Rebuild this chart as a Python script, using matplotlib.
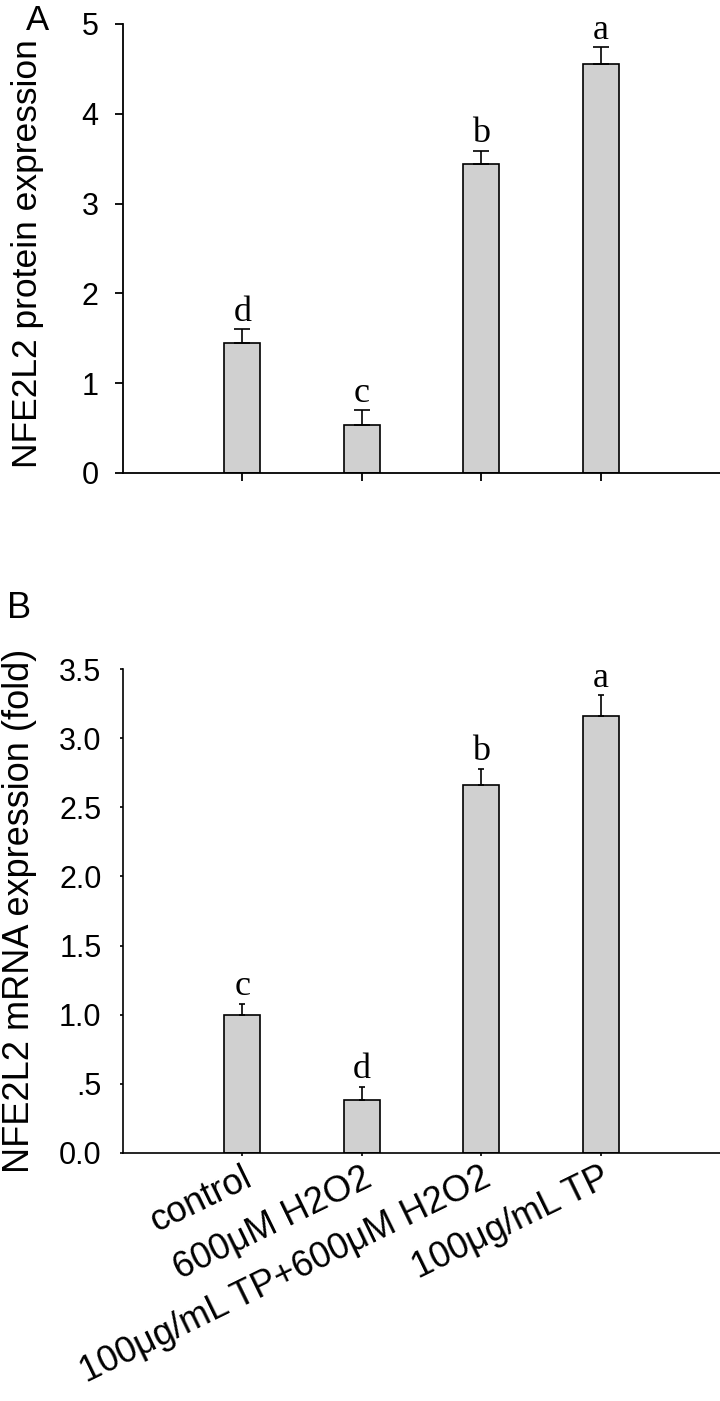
import numpy as np
import matplotlib
matplotlib.use("Agg")
import matplotlib.pyplot as plt
from matplotlib import font_manager

# Data
groups = ["control", "600μM H2O2", "100μg/mL TP+600μM H2O2", "100μg/mL TP"]
protein_mean = [1.45, 0.53, 3.44, 4.56]
protein_err = [0.15, 0.17, 0.15, 0.18]
protein_letters = ["d", "c", "b", "a"]
mrna_mean = [1.00, 0.385, 2.66, 3.16]
mrna_err = [0.08, 0.095, 0.12, 0.15]
mrna_letters = ["c", "d", "b", "a"]
mrna_ticks = [0.0, 0.5, 1.0, 1.5, 2.0, 2.5, 3.0, 3.5]
mrna_ticklabels = ["0.0", ".5", "1.0", "1.5", "2.0", "2.5", "3.0", "3.5"]

available = {f.name for f in font_manager.fontManager.ttflist}
SANS = "Liberation Sans" if "Liberation Sans" in available else "DejaVu Sans"
SERIF = "Liberation Serif" if "Liberation Serif" in available else "DejaVu Serif"

plt.rcParams["font.family"] = [SANS, "DejaVu Sans"]

BAR_COLOR = "#d0d0d0"
x = np.arange(1, len(groups) + 1)

fig = plt.figure(figsize=(7.2, 14.01), dpi=100)
W, H = 720, 1401


def px_axes(left, top, right, bottom):
    return fig.add_axes([left / W, 1 - bottom / H, (right - left) / W, (bottom - top) / H])


def style(ax, lw, ticklen, pad):
    for s in ("top", "right"):
        ax.spines[s].set_visible(False)
    for s in ("left", "bottom"):
        ax.spines[s].set_linewidth(lw)
    ax.tick_params(axis="both", direction="out", length=ticklen, width=lw)
    ax.tick_params(axis="y", labelsize=22, pad=pad)
    ax.tick_params(axis="x", pad=3)
    ax.set_xlim(0, 5)
    ax.set_xticks(x)


def bars(ax, mean, err, letters, capsize):
    ax.bar(x, mean, width=0.3, color=BAR_COLOR, edgecolor="black", linewidth=1.2, zorder=2)
    ax.errorbar(x, mean, yerr=[np.zeros(len(mean)), err], fmt="none",
                ecolor="black", elinewidth=1.2, capsize=capsize, capthick=1.2, zorder=3)
    for xi, m, e, t in zip(x, mean, err, letters):
        ax.annotate(t, (xi, m + e), xytext=(0, 6), textcoords="offset points",
                    ha="center", va="baseline", fontsize=26, family=SERIF)


# ---- Panel A: protein ----
axA = px_axes(123, 24, 720, 473)
bars(axA, protein_mean, protein_err, protein_letters, 5.5)
style(axA, 1.3, 5.5, 12)
axA.set_ylim(0, 5)
axA.set_yticks(range(6))
axA.set_xticklabels([])
fig.text(28 / W, 1 - 254 / H, "NFE2L2 protein expression", rotation=90,
         ha="center", va="center", fontsize=25.5)
fig.text(38 / W, 1 - 21 / H, "A", ha="center", va="center", fontsize=25)

# ---- Panel B: mRNA ----
axB = px_axes(123, 669, 720, 1153)
bars(axB, mrna_mean, mrna_err, mrna_letters, 2.5)
style(axB, 1.2, 2.5, 13)
axB.set_ylim(0, 3.5)
axB.set_yticks(mrna_ticks)
axB.set_yticklabels(mrna_ticklabels)
axB.set_xticklabels(groups, rotation=26, ha="right", va="top",
                    rotation_mode="anchor", fontsize=26)
fig.text(20 / W, 1 - 911 / H, "NFE2L2 mRNA expression (fold)", rotation=90,
         ha="center", va="center", fontsize=26)
fig.text(19 / W, 1 - 608 / H, "B", ha="center", va="center", fontsize=26)

fig.savefig("out.png", dpi=100, facecolor="white")
